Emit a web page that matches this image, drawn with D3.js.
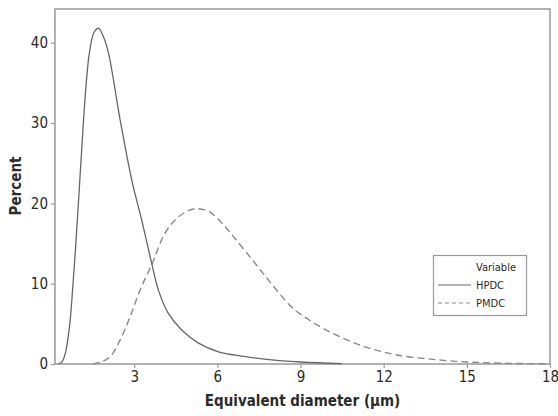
<!DOCTYPE html>
<html><head><meta charset="utf-8">
<script src="https://cdn.jsdelivr.net/npm/d3@7"></script>
<style>
html,body{margin:0;padding:0;background:#fff;}
svg text{font-family:"DejaVu Sans Condensed","Liberation Sans Narrow","Liberation Sans",sans-serif;fill:#2b2b2b;}
</style></head>
<body><svg id="c" width="558" height="416"></svg>
<script>
const hpdcX=[0.26,0.40,0.51,0.60,0.69,0.78,0.87,1.02,1.17,1.28,1.38,1.55,1.71,1.88,2.07,2.49,2.91,3.27,3.63,3.87,4.23,4.72,5.32,6.04,6.64,7.78,9.0,10.5];
const hpdcY=[0,0.3,1.3,3.0,5.5,9.5,13.8,22,30.4,35.5,38.7,41.3,41.8,40.8,38.7,30.4,22.9,17.9,12.5,9.2,6.3,4.2,2.6,1.5,1.1,0.58,0.25,0.05];
const pmdcX=[1.50,1.80,2.13,2.49,2.85,3.21,3.67,4.11,4.59,5.14,5.68,6.28,6.64,7.30,7.90,8.74,9.71,10.67,11.51,12.48,13.8,15.0,16.2,18.0];
const pmdcY=[0,0.25,0.9,3.0,5.9,9.2,12.7,16.3,18.3,19.3,19.0,17.1,15.6,12.8,10.2,6.9,4.65,3.0,1.95,1.12,0.57,0.25,0.1,0.03];
const xTicks=[3,6,9,12,15,18];
const yTicks=[0,10,20,30,40];
const seriesNames=["HPDC","PMDC"];
const legendTitle="Variable";
const xTitle="Equivalent diameter (µm)";
const yTitle="Percent";

const svg=d3.select("#c");
const L=55,T=9,R=550,B=364;
const x=d3.scaleLinear().domain([0.14,18]).range([L,R]);
const y=d3.scaleLinear().domain([0,44.2]).range([B,T]);
const grey="#999";

// frame
svg.append("rect").attr("x",L).attr("y",T).attr("width",R-L).attr("height",B-T)
  .attr("fill","none").attr("stroke",grey).attr("stroke-width",1.5);

// axes
const xa=svg.append("g").attr("transform",`translate(0,${B})`)
  .call(d3.axisBottom(x).tickValues(xTicks).tickSize(4).tickPadding(3).tickFormat(d3.format("d")));
const ya=svg.append("g").attr("transform",`translate(${L},0)`)
  .call(d3.axisLeft(y).tickValues(yTicks).tickSize(4).tickPadding(3).tickFormat(d3.format("d")));
[xa,ya].forEach(g=>{
  g.select(".domain").remove();
  g.selectAll(".tick line").attr("stroke",grey).attr("stroke-width",1.2);
  g.selectAll(".tick text").style("font-size","15px").attr("fill","#2b2b2b");
});

const line=d3.line().x(d=>x(d[0])).y(d=>Math.min(y(d[1]),B)).curve(d3.curveCatmullRom.alpha(0.5));
const hp=hpdcX.map((v,i)=>[v,hpdcY[i]]);
const pm=pmdcX.map((v,i)=>[v,pmdcY[i]]);
svg.append("path").datum(pm).attr("d",line).attr("fill","none")
  .attr("stroke","#8a8a8a").attr("stroke-width",1.4).attr("stroke-dasharray","7,4");
svg.append("path").datum(hp).attr("d",line).attr("fill","none")
  .attr("stroke","#666").attr("stroke-width",1.3);

// titles
svg.append("text").attr("x",(L+R)/2).attr("y",406).attr("text-anchor","middle")
  .style("font-size","15px").style("font-weight","bold").text(xTitle);
svg.append("text").attr("transform","translate(21,186) rotate(-90)").attr("text-anchor","middle")
  .style("font-size","15px").style("font-weight","bold").text(yTitle);

// legend
const lg=svg.append("g");
lg.append("rect").attr("x",433.5).attr("y",255.5).attr("width",93).attr("height",60)
  .attr("fill","#fff").attr("stroke",grey).attr("stroke-width",1.2);
lg.append("text").attr("x",476).attr("y",271).style("font-size","11px").text(legendTitle);
const dashes=["none","4,3"];
const cols=["#666","#8a8a8a"];
seriesNames.forEach((n,i)=>{
  const yy=289+i*18;
  lg.append("line").attr("x1",438).attr("x2",471).attr("y1",yy-4).attr("y2",yy-4)
    .attr("stroke",cols[i]).attr("stroke-width",1.2).attr("stroke-dasharray",dashes[i]);
  lg.append("text").attr("x",476).attr("y",yy).style("font-size","11px").text(n);
});
</script></body></html>
